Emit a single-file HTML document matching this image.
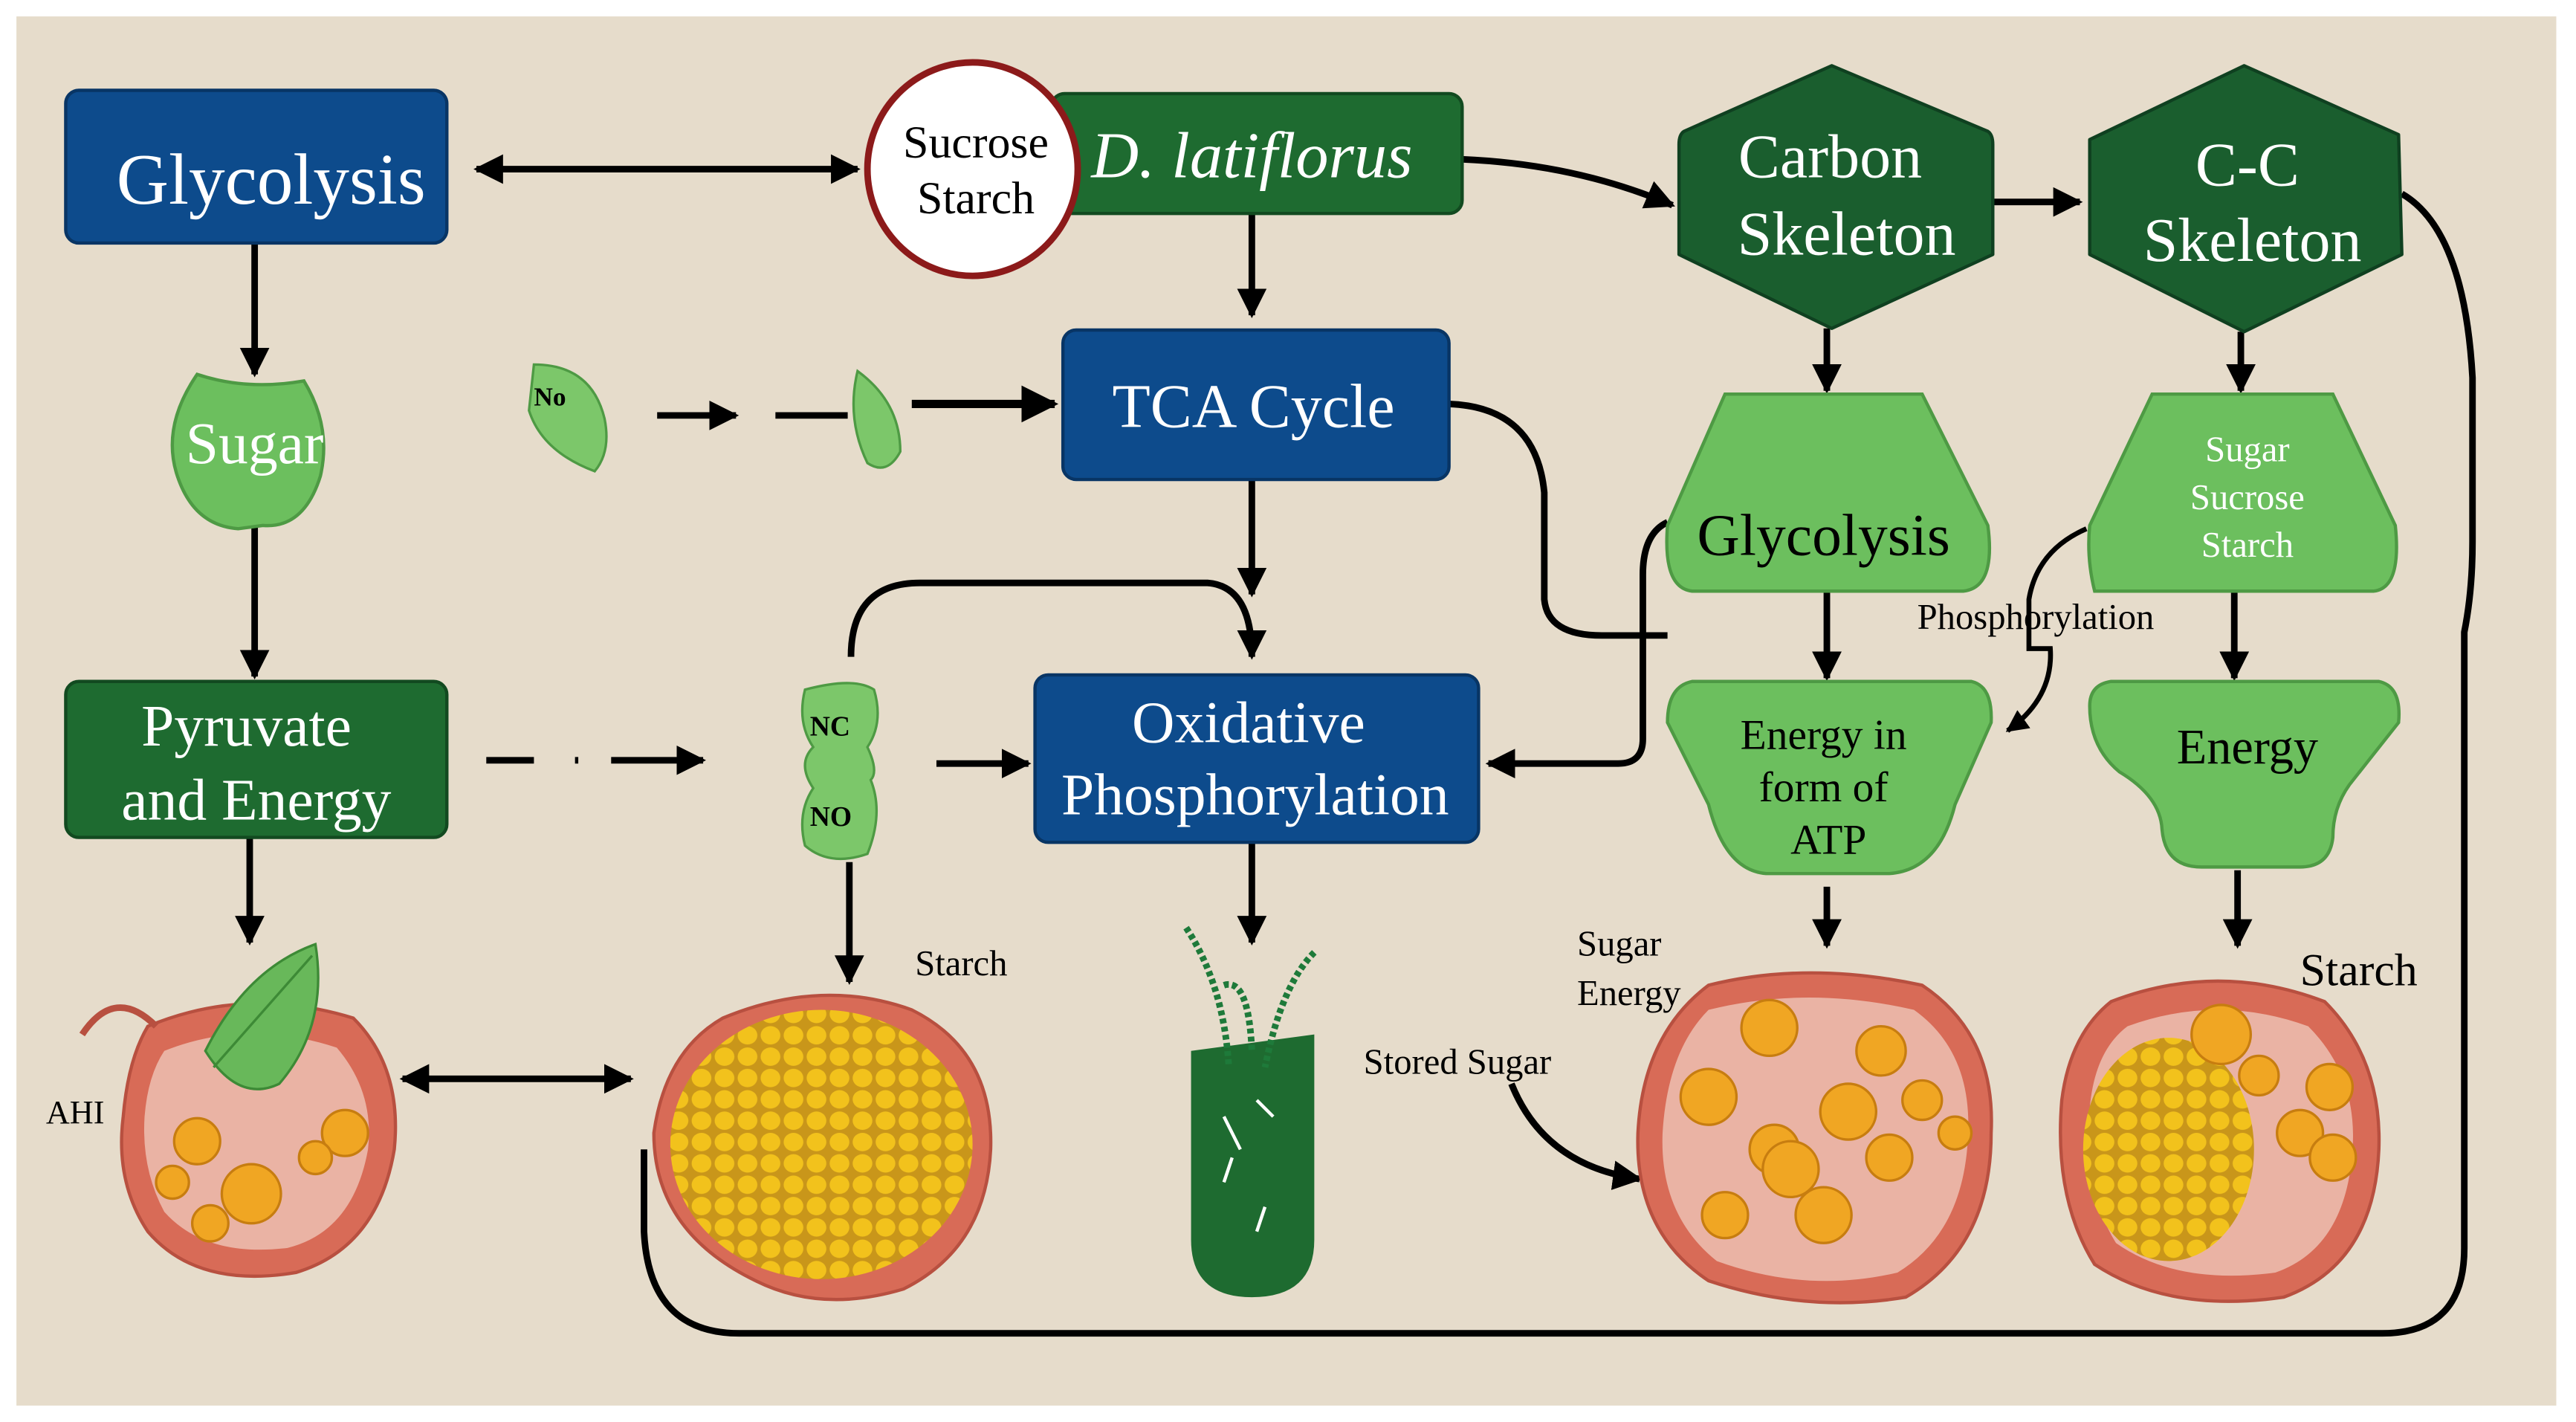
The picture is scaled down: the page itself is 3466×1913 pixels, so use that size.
<!DOCTYPE html>
<html><head><meta charset="utf-8"><style>
html,body{margin:0;padding:0;background:#fff;width:3466px;height:1913px;overflow:hidden}
svg{display:block}
text{font-family:"Liberation Serif",serif}
</style></head><body>
<svg width="3466" height="1913" viewBox="0 0 1568 866" preserveAspectRatio="none" xmlns="http://www.w3.org/2000/svg">
<defs>
<marker id="a" viewBox="0 0 10 10" refX="9" refY="5" markerWidth="4.5" markerHeight="4.5" orient="auto-start-reverse"><path d="M0,0L10,5L0,10z" fill="#000"/></marker>
<pattern id="cells" width="14" height="13" patternUnits="userSpaceOnUse"><rect width="14" height="13" fill="#c9961a"/><ellipse cx="7" cy="6.5" rx="6" ry="5.6" fill="#f2c21c"/></pattern>
</defs>
<rect width="1568" height="866" fill="#fff"/>
<rect x="10" y="10" width="1546" height="846" fill="#e6dccb"/>

<g stroke="#000" stroke-width="4" fill="none">
<path d="M1462,118 Q1500,140 1505,230 L1505,330 Q1505,360 1500,385 L1500,760 Q1500,812 1450,812 L450,812 Q395,812 392,750 L392,700"/>
<path d="M290,103 L522,103" marker-start="url(#a)" marker-end="url(#a)"/>
<path d="M890,97 Q960,100 1018,125" marker-end="url(#a)"/>
<path d="M1212,123 L1266,123" marker-end="url(#a)"/>
<path d="M762,130 L762,192" marker-end="url(#a)"/>
<path d="M155,148 L155,228" marker-end="url(#a)"/>
<path d="M155,300 L155,412" marker-end="url(#a)"/>
<path d="M152,510 L152,574" marker-end="url(#a)"/>
<path d="M400,253 L448,253" marker-end="url(#a)"/>
<path d="M472,253 L516,253"/>
<path d="M555,246 L642,246" stroke-width="5" marker-end="url(#a)"/>
<path d="M762,292 L762,362" marker-end="url(#a)"/>
<path d="M518,400 Q518,355 560,355 L735,355 Q762,357 762,400" marker-end="url(#a)"/>
<path d="M882,246 Q935,248 940,300 L940,365 Q942,387 975,387 L1015,387"/>
<path d="M1015,318 Q1000,325 1000,350 L1000,450 Q1000,465 985,465 L906,465" marker-end="url(#a)"/>
<path d="M296,463 L325,463 M350,463 L352,463 M372,463 L428,463" marker-end="url(#a)"/>
<path d="M570,465 L626,465" marker-end="url(#a)"/>
<path d="M517,525 L517,598" marker-end="url(#a)"/>
<path d="M762,513 L762,574" marker-end="url(#a)"/>
<path d="M1112,200 L1112,238" marker-end="url(#a)"/>
<path d="M1364,202 L1364,238" marker-end="url(#a)"/>
<path d="M1112,360 L1112,413" marker-end="url(#a)"/>
<path d="M1360,360 L1360,413" marker-end="url(#a)"/>
<path d="M1270,322 Q1240,335 1235,365 L1235,395 L1248,395 Q1250,425 1222,445" stroke-width="3" marker-end="url(#a)"/>
<path d="M1112,540 L1112,576" marker-end="url(#a)"/>
<path d="M1362,530 L1362,576" marker-end="url(#a)"/>
<path d="M245,657 L384,657" marker-start="url(#a)" marker-end="url(#a)"/>
<path d="M920,660 Q940,710 998,718" marker-end="url(#a)"/>
</g>

<!-- boxes -->
<rect x="40" y="55" width="232" height="93" rx="8" fill="#0d4b8c" stroke="#083565" stroke-width="2"/>
<text x="165" y="124" font-size="44" fill="#fff" text-anchor="middle">Glycolysis</text>
<rect x="640" y="57" width="250" height="73" rx="8" fill="#1e6b30" stroke="#124a20" stroke-width="2"/>
<text x="762" y="108" font-size="40" fill="#fff" text-anchor="middle" font-style="italic">D. latiflorus</text>
<ellipse cx="592" cy="103" rx="64" ry="65" fill="#fff" stroke="#8c1a1a" stroke-width="4"/>
<text x="594" y="96" font-size="28" text-anchor="middle">Sucrose</text>
<text x="594" y="130" font-size="28" text-anchor="middle">Starch</text>

<path d="M1115,40 L1210,80 Q1213,82 1213,88 L1213,155 L1115,200 L1022,155 L1022,88 Q1022,82 1025,80 Z" fill="#1a5e2e" stroke="#0f4020" stroke-width="2" stroke-linejoin="round"/>
<text x="1114" y="108" font-size="38" fill="#fff" text-anchor="middle">Carbon</text>
<text x="1124" y="155" font-size="38" fill="#fff" text-anchor="middle">Skeleton</text>
<path d="M1366,40 L1460,82 L1462,155 L1366,202 L1272,155 L1272,85 Z" fill="#1a5e2e" stroke="#0f4020" stroke-width="2" stroke-linejoin="round"/>
<text x="1368" y="113" font-size="38" fill="#fff" text-anchor="middle">C-C</text>
<text x="1371" y="159" font-size="38" fill="#fff" text-anchor="middle">Skeleton</text>

<rect x="647" y="201" width="235" height="91" rx="8" fill="#0d4b8c" stroke="#083565" stroke-width="2"/>
<text x="763" y="260" font-size="38" fill="#fff" text-anchor="middle">TCA Cycle</text>
<rect x="40" y="415" width="232" height="95" rx="8" fill="#1e6b30" stroke="#124a20" stroke-width="2"/>
<text x="150" y="454" font-size="36" fill="#fff" text-anchor="middle">Pyruvate</text>
<text x="156" y="499" font-size="36" fill="#fff" text-anchor="middle">and Energy</text>
<rect x="630" y="411" width="270" height="102" rx="8" fill="#0d4b8c" stroke="#083565" stroke-width="2"/>
<text x="760" y="452" font-size="36" fill="#fff" text-anchor="middle">Oxidative</text>
<text x="764" y="496" font-size="36" fill="#fff" text-anchor="middle">Phosphorylation</text>

<!-- light green shapes -->
<path d="M1050,240 L1170,240 L1210,320 Q1215,358 1195,360 L1030,360 Q1012,358 1015,320 Z" fill="#6cbf5e" stroke="#4e9a44" stroke-width="2"/>
<text x="1110" y="338" font-size="36" text-anchor="middle">Glycolysis</text>
<path d="M1310,240 L1420,240 L1458,320 Q1462,358 1445,360 L1275,360 Q1270,340 1272,320 Z" fill="#6cbf5e" stroke="#4e9a44" stroke-width="2"/>
<text x="1368" y="281" font-size="22" fill="#fff" text-anchor="middle">Sugar</text>
<text x="1368" y="310" font-size="22" fill="#fff" text-anchor="middle">Sucrose</text>
<text x="1368" y="339" font-size="22" fill="#fff" text-anchor="middle">Starch</text>
<text x="1167" y="383" font-size="22">Phosphorylation</text>
<path d="M1030,415 L1200,415 Q1213,418 1212,440 L1190,490 Q1180,530 1150,532 L1075,532 Q1050,530 1040,490 L1015,440 Q1015,418 1030,415 Z" fill="#6cbf5e" stroke="#4e9a44" stroke-width="2"/>
<text x="1110" y="456" font-size="26" text-anchor="middle">Energy in</text>
<text x="1110" y="488" font-size="26" text-anchor="middle">form of</text>
<text x="1113" y="520" font-size="26" text-anchor="middle">ATP</text>
<path d="M1285,415 L1448,415 Q1462,418 1460,440 L1430,478 Q1420,492 1420,510 Q1418,528 1400,528 L1340,528 Q1318,528 1316,505 Q1315,485 1290,470 Q1272,455 1272,430 Q1272,417 1285,415 Z" fill="#6cbf5e" stroke="#4e9a44" stroke-width="2"/>
<text x="1368" y="465" font-size="30" text-anchor="middle">Energy</text>

<!-- sugar leaf -->
<path d="M120,228 Q150,238 185,232 Q202,260 195,290 Q185,322 160,320 L145,322 Q118,320 108,290 Q98,260 120,228 Z" fill="#6cbf5e" stroke="#4e9a44" stroke-width="2"/>
<text x="155" y="282" font-size="36" fill="#fff" text-anchor="middle">Sugar</text>
<!-- small leaves -->
<path d="M325,222 Q360,222 368,255 Q372,275 362,287 Q330,275 322,250 Z" fill="#7cc76a" stroke="#4e9a44" stroke-width="1.5"/>
<text x="325" y="247" font-size="16" font-family="Liberation Sans" font-weight="bold">No</text>
<path d="M522,226 Q548,245 548,275 Q540,290 528,282 Q515,255 522,226 Z" fill="#7cc76a" stroke="#4e9a44" stroke-width="1.5"/>
<path d="M490,420 Q520,412 532,420 Q538,440 528,455 Q535,470 530,475 Q538,495 528,520 Q505,528 490,515 Q485,495 495,480 Q485,465 495,455 Q485,440 490,420 Z" fill="#7cc76a" stroke="#4e9a44" stroke-width="1.5"/>
<text x="493" y="448" font-size="17" font-family="Liberation Sans" font-weight="bold">NC</text>
<text x="493" y="503" font-size="17" font-family="Liberation Sans" font-weight="bold">NO</text>

<!-- tube -->
<path d="M725,640 L800,630 L800,755 Q800,790 762,790 Q725,790 725,755 Z" fill="#1e6b30"/>
<g stroke="#1e7a3a" stroke-width="4" stroke-dasharray="3 2" fill="none"><path d="M722,565 Q745,600 748,650"/><path d="M800,580 Q780,600 770,650"/><path d="M745,600 Q760,595 762,640"/></g>
<g stroke="#fff" stroke-width="2" fill="none"><path d="M745,680 L755,700 M765,670 L775,680 M750,705 L745,720 M770,735 L765,750"/></g>

<!-- starch blobs -->
<path d="M440,620 Q500,595 555,615 Q605,640 603,700 Q600,760 550,785 Q500,800 460,780 Q398,750 398,690 Q405,640 440,620 Z" fill="#d86b57" stroke="#b85040" stroke-width="2"/>
<ellipse cx="500" cy="697" rx="92" ry="82" fill="url(#cells)"/>

<path d="M1040,600 Q1100,585 1170,600 Q1215,630 1212,690 Q1212,760 1160,790 Q1100,800 1040,780 Q995,750 997,690 Q1000,630 1040,600 Z" fill="#d86b57" stroke="#b85040" stroke-width="2"/>
<path d="M1040,615 Q1100,600 1165,615 Q1200,640 1198,690 Q1196,750 1155,775 Q1100,788 1045,768 Q1010,740 1012,690 Q1015,640 1040,615 Z" fill="#eab3a4"/>
<g fill="#f0a623" stroke="#c77d10" stroke-width="1.5">
<circle cx="1077" cy="626" r="17"/><circle cx="1145" cy="640" r="15"/><circle cx="1040" cy="668" r="17"/><circle cx="1125" cy="677" r="17"/><circle cx="1080" cy="700" r="15"/><circle cx="1150" cy="705" r="14"/><circle cx="1090" cy="712" r="17"/><circle cx="1110" cy="740" r="17"/><circle cx="1050" cy="740" r="14"/><circle cx="1170" cy="670" r="12"/><circle cx="1190" cy="690" r="10"/>
</g>

<path d="M1285,610 Q1350,585 1415,610 Q1450,645 1448,700 Q1445,770 1390,790 Q1320,800 1275,770 Q1250,730 1255,670 Q1260,630 1285,610 Z" fill="#d86b57" stroke="#b85040" stroke-width="2"/>
<path d="M1295,625 Q1350,605 1405,625 Q1435,655 1432,700 Q1428,760 1385,775 Q1325,783 1288,757 Q1268,725 1272,675 Q1275,640 1295,625 Z" fill="#eab3a4"/>
<ellipse cx="1320" cy="700" rx="52" ry="68" fill="url(#cells)"/>
<g fill="#f0a623" stroke="#c77d10" stroke-width="1.5"><circle cx="1352" cy="630" r="18"/><circle cx="1418" cy="662" r="14"/><circle cx="1400" cy="690" r="14"/><circle cx="1420" cy="705" r="14"/><circle cx="1375" cy="655" r="12"/></g>

<!-- left cell -->
<path d="M90,625 Q150,600 215,620 Q245,650 240,700 Q230,760 180,775 Q120,785 90,750 Q70,720 75,680 Q78,645 90,625 Z" fill="#d86b57" stroke="#b85040" stroke-width="2"/>
<path d="M100,640 Q150,620 205,638 Q228,665 224,700 Q215,750 175,760 Q125,766 100,738 Q86,712 88,680 Q90,655 100,640 Z" fill="#eab3a4"/>
<path d="M50,630 Q70,600 95,625" stroke="#b85040" stroke-width="4" fill="none"/>
<g fill="#f0a623" stroke="#c77d10" stroke-width="1.5"><circle cx="120" cy="695" r="14"/><circle cx="153" cy="727" r="18"/><circle cx="105" cy="720" r="10"/><circle cx="128" cy="745" r="11"/><circle cx="210" cy="690" r="14"/><circle cx="192" cy="705" r="10"/></g>
<path d="M125,640 Q150,590 192,575 Q200,625 170,660 Q145,672 125,640 Z" fill="#68b85a" stroke="#3d8a36" stroke-width="1.5"/>
<path d="M130,650 L190,582" stroke="#3d8a36" stroke-width="1.5"/>
<text x="28" y="684" font-size="20" font-family="Liberation Sans">AHI</text>

<!-- labels -->
<text x="557" y="594" font-size="22">Starch</text>
<text x="1400" y="600" font-size="28">Starch</text>
<text x="960" y="582" font-size="22">Sugar</text>
<text x="960" y="612" font-size="22">Energy</text>
<text x="830" y="654" font-size="22">Stored Sugar</text>
</svg>
</body></html>
